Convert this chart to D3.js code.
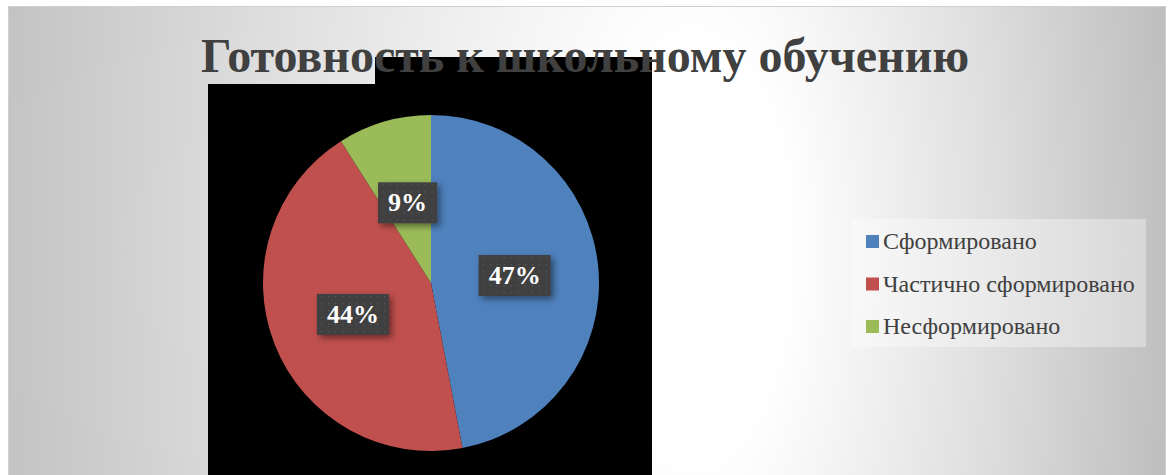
<!DOCTYPE html>
<html>
<head>
<meta charset="utf-8">
<script src="https://cdn.jsdelivr.net/npm/d3@7"></script>
<style>
  body { margin: 0; background: #fff; }
</style>
</head>
<body>
<div id="chart"></div>
<script>
// chart data
var categories = ["Сформировано", "Частично сформировано", "Несформировано"];
var values = [47, 44, 9];
var colors = ["#4f81bd", "#c0504d", "#9bbb59"];
var title = "Готовность к школьному обучению";

var W = 1168, H = 475;
var serif = "'Liberation Serif', 'Times New Roman', serif";

var svg = d3.select("#chart")
	.append("svg")
	.attr("width", W)
	.attr("height", H);

var defs = svg.append("defs");

// background gradient, white in the middle fading to grey at the sides
var bg = defs.append("radialGradient")
	.attr("id", "bg")
	.attr("gradientUnits", "userSpaceOnUse")
	.attr("gradientTransform", "translate(720,250) scale(1,2.2)")
	.attr("cx", -160).attr("cy", 0).attr("r", 620)
	.attr("fx", 0).attr("fy", 0);
bg.append("stop").attr("offset", "0").attr("stop-color", "#ffffff");
bg.append("stop").attr("offset", "0.15").attr("stop-color", "#ffffff");
bg.append("stop").attr("offset", "0.6").attr("stop-color", "#dedede");
bg.append("stop").attr("offset", "1").attr("stop-color", "#bdbdbd");

// dotted fill for the data label boxes
var pat = defs.append("pattern")
	.attr("id", "dots")
	.attr("patternUnits", "userSpaceOnUse")
	.attr("width", 7).attr("height", 7);
pat.append("rect").attr("width", 7).attr("height", 7).attr("fill", "#3f3f3f");
pat.append("rect").attr("x", 3).attr("y", 3).attr("width", 1.3).attr("height", 1.3).attr("fill", "#5a5a5a");

var shadow = defs.append("filter")
	.attr("id", "shadow")
	.attr("x", "-30%").attr("y", "-30%")
	.attr("width", "160%").attr("height", "160%");
shadow.append("feDropShadow")
	.attr("dx", 3).attr("dy", 3)
	.attr("stdDeviation", 3)
	.attr("flood-color", "#000")
	.attr("flood-opacity", 0.45);

// chart area
svg.append("rect")
	.attr("x", 8.5).attr("y", 6.5)
	.attr("width", 1157).attr("height", 470)
	.attr("fill", "url(#bg)")
	.attr("stroke", "#cfcfcf");

// black plot backdrop
svg.append("rect")
	.attr("x", 208).attr("y", 84)
	.attr("width", 444).attr("height", 391)
	.attr("fill", "#000");
svg.append("rect")
	.attr("x", 375).attr("y", 57)
	.attr("width", 277).attr("height", 30)
	.attr("fill", "#000");

// title
svg.append("text")
	.attr("x", 585).attr("y", 72)
	.attr("text-anchor", "middle")
	.style("font-family", serif)
	.style("font-weight", "bold")
	.style("font-size", "48px")
	.attr("fill", "#404040")
	.text(title);

// pie
var cx = 431, cy = 283, radius = 168;

var pie = d3.pie().sort(null).value(d => d)(values);
var arc = d3.arc().innerRadius(0).outerRadius(radius);
var labelArc = d3.arc().innerRadius(radius * 0.5).outerRadius(radius * 0.5);

var g = svg.append("g")
	.attr("transform", "translate(" + cx + "," + cy + ")");

g.selectAll("path")
	.data(pie)
	.join("path")
	.attr("d", arc)
	.attr("fill", (d, i) => colors[i]);

// data labels
var total = d3.sum(values);
var labels = g.selectAll("g.lbl")
	.data(pie)
	.join("g")
	.attr("class", "lbl")
	.attr("transform", d => "translate(" + labelArc.centroid(d) + ")");

labels.each(function(d) {
	var lg = d3.select(this);
	var txt = Math.round(d.value / total * 100) + "%";
	var box = lg.append("rect")
		.attr("fill", "url(#dots)")
		.attr("filter", "url(#shadow)");
	var t = lg.append("text")
		.attr("text-anchor", "middle")
		.attr("dy", "0.35em")
		.style("font-family", serif)
		.style("font-weight", "bold")
		.style("font-size", "26px")
		.attr("fill", "#fff")
		.text(txt);
	var w = t.node().getComputedTextLength() + 20;
	box.attr("x", -w / 2).attr("y", -20)
		.attr("width", w).attr("height", 41);
});

// legend
var legend = svg.append("g");
legend.append("rect")
	.attr("x", 852).attr("y", 219)
	.attr("width", 294).attr("height", 128)
	.attr("fill", "#fff")
	.attr("fill-opacity", 0.35);

var items = legend.selectAll("g.item")
	.data(categories)
	.join("g")
	.attr("class", "item")
	.attr("transform", (d, i) => "translate(866," + (241 + i * 42.5) + ")");

items.append("rect")
	.attr("x", 0).attr("y", -6)
	.attr("width", 13).attr("height", 13)
	.attr("fill", (d, i) => colors[i]);

items.append("text")
	.attr("x", 17).attr("dy", "0.35em")
	.style("font-family", serif)
	.style("font-size", "24px")
	.attr("fill", "#404040")
	.text(d => d);
</script>
</body>
</html>
